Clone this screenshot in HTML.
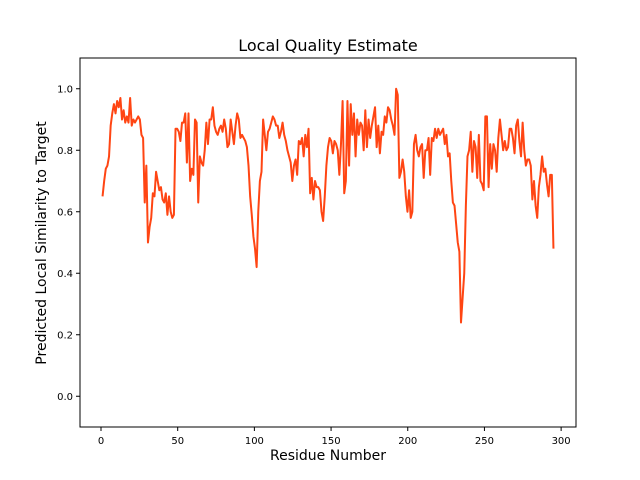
<!DOCTYPE html>
<html><head><meta charset="utf-8"><style>
body{margin:0;background:#fff}
svg{display:block;font-family:"DejaVu Sans","Liberation Sans",sans-serif}
</style></head><body>
<svg width="640" height="480" id="chart">
<rect x="0" y="0" width="640" height="480" fill="#fff"/>
<text x="328" y="51" text-anchor="middle" font-size="16">Local Quality Estimate</text>
<text x="328" y="460" text-anchor="middle" font-size="14">Residue Number</text>
<text transform="translate(46,243) rotate(-90)" text-anchor="middle" font-size="14">Predicted Local Similarity to Target</text>
<g id="ticks"></g>
<polyline id="line" fill="none" stroke="#ff4513" stroke-width="2" stroke-linejoin="round"/>
<rect x="80" y="58" width="496" height="369" fill="none" stroke="#000" stroke-width="1"/>
</svg>
<script>
const values=[0.65,0.70,0.74,0.75,0.78,0.88,0.92,0.95,0.92,0.96,0.94,0.97,0.90,0.93,0.89,0.91,0.89,0.97,0.88,0.90,0.89,0.90,0.91,0.90,0.85,0.84,0.63,0.75,0.50,0.55,0.58,0.66,0.65,0.73,0.70,0.67,0.68,0.64,0.63,0.66,0.59,0.65,0.60,0.58,0.59,0.87,0.87,0.86,0.83,0.89,0.89,0.92,0.76,0.92,0.70,0.74,0.72,0.90,0.89,0.63,0.78,0.76,0.75,0.80,0.89,0.82,0.90,0.90,0.94,0.88,0.86,0.85,0.87,0.88,0.86,0.90,0.87,0.81,0.82,0.90,0.86,0.82,0.88,0.92,0.90,0.84,0.85,0.84,0.83,0.81,0.75,0.65,0.59,0.52,0.48,0.42,0.60,0.70,0.73,0.90,0.85,0.80,0.86,0.87,0.89,0.91,0.90,0.88,0.88,0.84,0.86,0.89,0.85,0.83,0.80,0.78,0.76,0.70,0.75,0.77,0.72,0.83,0.82,0.84,0.78,0.85,0.81,0.87,0.66,0.71,0.64,0.70,0.68,0.68,0.67,0.60,0.57,0.65,0.75,0.81,0.84,0.83,0.79,0.83,0.82,0.80,0.72,0.82,0.96,0.66,0.70,0.96,0.75,0.95,0.85,0.92,0.78,0.90,0.85,0.89,0.88,0.80,0.93,0.81,0.90,0.84,0.88,0.91,0.94,0.81,0.88,0.79,0.86,0.85,0.91,0.89,0.94,0.93,0.90,0.88,0.85,1.00,0.98,0.71,0.73,0.77,0.73,0.65,0.60,0.67,0.58,0.60,0.82,0.85,0.80,0.78,0.81,0.82,0.71,0.80,0.80,0.84,0.72,0.84,0.83,0.87,0.84,0.87,0.85,0.86,0.87,0.82,0.85,0.78,0.79,0.70,0.63,0.62,0.56,0.50,0.47,0.24,0.32,0.40,0.62,0.78,0.80,0.86,0.73,0.83,0.81,0.71,0.85,0.70,0.69,0.67,0.91,0.91,0.68,0.82,0.74,0.82,0.80,0.73,0.84,0.90,0.85,0.80,0.83,0.80,0.81,0.87,0.87,0.84,0.79,0.88,0.90,0.83,0.78,0.89,0.80,0.75,0.77,0.77,0.75,0.64,0.70,0.62,0.58,0.68,0.72,0.78,0.73,0.74,0.69,0.65,0.72,0.72,0.48];
const firstResidue=1, lastResidue=295;
const xTicks=[0,50,100,150,200,250,300];
const yTicks=[0.0,0.2,0.4,0.6,0.8,1.0];
const X0=80,X1=576,Y0=58,Y1=427;
const xmin=-13.7,xmax=309.7,ymin=-0.1,ymax=1.1;
const sx=v=>X0+(v-xmin)/(xmax-xmin)*(X1-X0);
const sy=v=>Y1-(v-ymin)/(ymax-ymin)*(Y1-Y0);
const NS="http://www.w3.org/2000/svg";
const g=document.getElementById('ticks');
xTicks.forEach(t=>{
  const l=document.createElementNS(NS,'line');
  l.setAttribute('x1',sx(t));l.setAttribute('x2',sx(t));l.setAttribute('y1',Y1);l.setAttribute('y2',Y1+4);l.setAttribute('stroke','#000');
  
  
  g.appendChild(l);
  const tx=document.createElementNS(NS,'text');
  tx.setAttribute('x',sx(t));tx.setAttribute('y',Y1+17);tx.setAttribute('text-anchor','middle');tx.setAttribute('font-size','10');
  tx.textContent=t;
  
  
  g.appendChild(tx);
});
yTicks.forEach(t=>{
  const l=document.createElementNS(NS,'line');
  l.setAttribute('x1',X0-4);l.setAttribute('x2',X0);l.setAttribute('y1',sy(t));l.setAttribute('y2',sy(t));l.setAttribute('stroke','#000');
  
  
  g.appendChild(l);
  const tx=document.createElementNS(NS,'text');
  tx.setAttribute('x',X0-7);tx.setAttribute('y',sy(t)+3.5);tx.setAttribute('text-anchor','end');tx.setAttribute('font-size','10');
  tx.textContent=t.toFixed(1);
  
  
  g.appendChild(tx);
});
const n=values.length;
const pts=values.map((v,i)=>{
  const r=firstResidue+i*(lastResidue-firstResidue)/(n-1);
  return sx(r).toFixed(2)+','+sy(v).toFixed(2);
});
document.getElementById('line').setAttribute('points',pts.join(' '));
</script>
</body></html>
